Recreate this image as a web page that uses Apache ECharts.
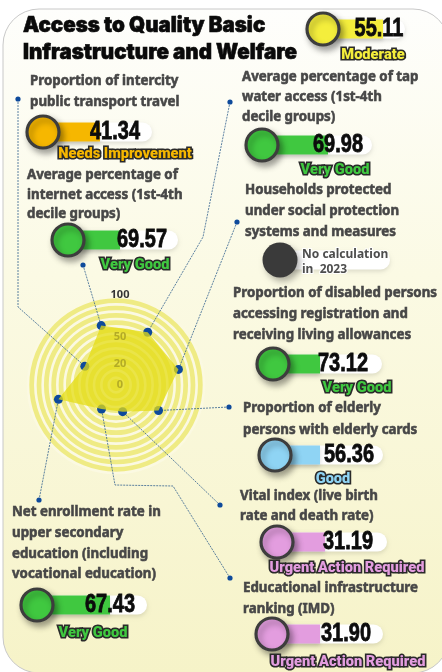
<!DOCTYPE html>
<html>
<head>
<meta charset="utf-8">
<script src="https://cdn.jsdelivr.net/npm/echarts@6/dist/echarts.min.js"></script>
<style>
html, body { margin: 0; padding: 0; background: #fff; }
#main { width: 442px; height: 672px; }
</style>
</head>
<body>
<div id="main"></div>
<script>
var chart = echarts.init(document.getElementById('main'));

// ---- data ----
var titleLines = ['Access to Quality Basic', 'Infrastructure and Welfare'];
var overallScore = 55.11;
var overallRating = 'Moderate';

var kpiNames = [
    'Proportion of intercity\npublic transport travel',
    'Average percentage of tap\nwater access (1st-4th\ndecile groups)',
    'Average percentage of\ninternet access (1st-4th\ndecile groups)',
    'Households protected\nunder social protection\nsystems and measures',
    'Proportion of disabled persons\naccessing registration and\nreceiving living allowances',
    'Proportion of elderly\npersons with elderly cards',
    'Vital index (live birth\nrate and death rate)',
    'Net enrollment rate in\nupper secondary\neducation (including\nvocational education)',
    'Educational infrastructure\nranking (IMD)'
];
var kpiScores = [41.34, 69.98, 69.57, null, 73.12, 56.36, 31.19, 67.43, 31.90];
var kpiRatings = ['Needs Improvement', 'Very Good', 'Very Good', 'No calculation\nin  2023',
    'Very Good', 'Good', 'Urgent Action Required', 'Very Good', 'Urgent Action Required'];

// radar spokes, counter-clockwise, as indexes into the kpi lists
var radarOrder = [2, 0, 7, 8, 6, 5, 4, 1];
var radarTicks = [0, 20, 50, 100];

// ---- styles ----
var ratingColors = {
    'Moderate': '#f4ee3c',
    'Needs Improvement': '#f6b700',
    'Very Good': '#40c840',
    'Good': '#8fd4f4',
    'Urgent Action Required': '#e39ddf'
};

// layout of each kpi block (same order as kpiNames)
var blocks = [
    {label: [30, 81], lh: 21, c: [43, 132], fill: 100, track: 152, num: 115, rate: [125, 154]},
    {label: [242, 77], lh: 20, c: [262, 145], fill: 328, track: 372, num: 338, rate: [335, 170]},
    {label: [27, 175], lh: 19.5, c: [68, 240], fill: 120, track: 178, num: 142, rate: [135, 265]},
    {label: [245, 190], lh: 21, c: [280, 260], fill: null, track: 390, num: null, rate: [302, 262]},
    {label: [233, 293], lh: 21, c: [273, 364], fill: 320, track: 382, num: 343, rate: [357, 388]},
    {label: [243, 408], lh: 22, c: [275, 455], fill: 320, track: 383, num: 349, rate: [333, 479]},
    {label: [240, 496], lh: 20, c: [277, 542], fill: 325, track: 387, num: 348, rate: [347, 568]},
    {label: [12, 512], lh: 20.7, c: [37, 605], fill: 110, track: 147, num: 110, rate: [93, 633]},
    {label: [243, 588], lh: 21, c: [272, 634], fill: 320, track: 383, num: 346, rate: [348, 662]}
];
var overallBlock = {c: [323, 29], fill: 383, track: 405, num: 379, rate: [373, 55]};

// connector from a label dot (with bends) to a radar spoke point
var spokeLinks = [
    {dot: [83, 265], bends: []},
    {dot: [18, 99], bends: [[18, 307]]},
    {dot: [39, 500], bends: []},
    {dot: [230, 578], bends: [[173, 486], [115, 485]]},
    {dot: [220, 505], bends: []},
    {dot: [229, 407], bends: []},
    {dot: [237, 222], bends: []},
    {dot: [230, 102], bends: [[203, 237]]}
];

var ctx = document.createElement('canvas').getContext('2d');
function textWidth(t, font) {
    ctx.font = font;
    return ctx.measureText(t).width;
}

var titleFont = '900 21px Inter, "Noto Sans", sans-serif';
var labelFont = 'bold 15px "Noto Sans", sans-serif';
var numFont = 'bold 25px "Liberation Sans", Arial, sans-serif';
var rateFont = '900 14px Roboto, "Noto Sans", sans-serif';
var titleScale = 274 / textWidth(titleLines[1], titleFont);
var labelScale = 204 / textWidth('Proportion of disabled persons', labelFont);
var numScale = 50 / textWidth('41.34', numFont);
var rateScale = 155 / textWidth('Urgent Action Required', rateFont);

var radarValues = radarOrder.map(function (i) { return kpiScores[i]; });

chart.setOption({
    animation: false,
    radar: {
        z: 0,
        center: [116, 385],
        radius: 88,
        startAngle: 104,
        shape: 'circle',
        splitNumber: 12,
        indicator: radarOrder.map(function (i) {
            return {name: kpiNames[i], min: 0, max: 100};
        }),
        axisName: {show: false},
        axisLine: {show: false},
        axisTick: {show: false},
        axisLabel: {show: false},
        splitLine: {lineStyle: {color: '#fbf9e2', width: 2.6}},
        splitArea: {areaStyle: {color: ['#efeb84', '#efeb84']}}
    },
    series: [
        {
            // spoke points, sitting under the area
            type: 'radar',
            z: 2,
            silent: true,
            symbol: 'circle',
            symbolSize: 9,
            itemStyle: {color: '#0e4a9b'},
            lineStyle: {width: 0, opacity: 0},
            data: [{value: radarValues}]
        },
        {
            type: 'radar',
            z: 3,
            silent: true,
            symbol: 'none',
            lineStyle: {width: 0, opacity: 0},
            areaStyle: {color: 'rgba(228,220,20,0.75)', opacity: 1},
            data: [{value: radarValues}]
        }
    ]
});

// spoke points through the radar's own coordinate system
var radarCS = chart.getModel().getComponent('radar').coordinateSystem;
function spokePoint(idx) {
    return radarCS.dataToPoint(radarValues[idx], idx);
}

var g = [];
g.push({
    type: 'rect', z: -10,
    shape: {x: 3, y: 9, width: 446, height: 664, r: 36},
    style: {
        fill: {type: 'linear', x: 0, y: 0, x2: 0, y2: 1, colorStops: [
            {offset: 0, color: '#fefefc'}, {offset: 0.4, color: '#fbfae4'}, {offset: 1, color: '#f6f3c8'}]},
        stroke: '#c8c8c8', lineWidth: 1
    }
});

titleLines.forEach(function (t, i) {
    g.push({type: 'text', z: 20, x: 23, y: 26 + i * 27, scaleX: titleScale,
        style: {text: t, font: titleFont, fill: '#0a0a0a', stroke: '#0a0a0a', lineWidth: 0.6,
            align: 'left', verticalAlign: 'middle'}});
});

// ring labels along the vertical
radarTicks.forEach(function (v) {
    var r = radarCS.r * v / 100;
    g.push({type: 'text', z: 5, x: radarCS.cx + 4, y: radarCS.cy - r - (v === 100 ? 2 : (v === 0 ? 0 : 4)),
        style: {text: String(v), font: 'bold 11px "Noto Sans", sans-serif',
            fill: v === 100 ? '#333' : '#b3ab26', align: 'center', verticalAlign: 'middle'}});
});

// connectors
spokeLinks.forEach(function (link, idx) {
    var pts = [link.dot].concat(link.bends);
    var p = spokePoint(idx);
    pts.push([p[0], p[1]]);
    g.push({type: 'polyline', z: 1, silent: true, shape: {points: pts},
        style: {stroke: '#33628f', lineWidth: 0.8, lineDash: [2, 1], fill: null}});
    g.push({type: 'circle', z: 20, shape: {cx: link.dot[0], cy: link.dot[1], r: 2.6},
        style: {fill: '#0e4a9b'}});
});

function ratingText(x, y, text, color) {
    g.push({type: 'text', z: 21, x: x, y: y, scaleX: rateScale,
        style: {text: text, font: rateFont, fill: '#2a2a2a', stroke: '#2a2a2a', lineWidth: 3.2,
            lineJoin: 'round', align: 'center', verticalAlign: 'middle'}});
    g.push({type: 'text', z: 22, x: x, y: y, scaleX: rateScale,
        style: {text: text, font: rateFont, fill: color, align: 'center', verticalAlign: 'middle'}});
}

function gauge(b, score, rating) {
    var cx = b.c[0], cy = b.c[1];
    var color = ratingColors[rating];
    g.push({type: 'rect', z: 10, shape: {x: cx, y: cy - 9.5, width: b.track - cx, height: 19, r: 9.5},
        style: {fill: '#fff', shadowBlur: 4, shadowOffsetY: 2, shadowColor: 'rgba(0,0,0,0.12)'}});
    if (score != null) {
        g.push({type: 'rect', z: 11, shape: {x: cx, y: cy - 9.5, width: b.fill - cx, height: 19},
            style: {fill: color, shadowBlur: 4, shadowOffsetY: 2, shadowColor: 'rgba(0,0,0,0.15)'}});
        g.push({type: 'text', z: 12, x: b.num, y: cy, scaleX: numScale, scaleY: 1.05,
            style: {text: score.toFixed(2), font: numFont, fill: '#0c0c0c', stroke: '#0c0c0c',
                lineWidth: 0.8, align: 'center', verticalAlign: 'middle'}});
        g.push({type: 'circle', z: 13, shape: {cx: cx, cy: cy, r: 16},
            style: {fill: color, stroke: '#3d3d3d', lineWidth: 3.2,
                shadowBlur: 6, shadowOffsetX: 3, shadowOffsetY: 4, shadowColor: 'rgba(0,0,0,0.35)'}});
        ratingText(b.rate[0], b.rate[1], rating, color);
    } else {
        g.push({type: 'circle', z: 13, shape: {cx: cx, cy: cy, r: 17.5},
            style: {fill: '#3a3a3a', shadowBlur: 6, shadowOffsetX: 3, shadowOffsetY: 4,
                shadowColor: 'rgba(0,0,0,0.3)'}});
        g.push({type: 'text', z: 14, x: b.rate[0], y: b.rate[1],
            style: {text: rating, font: 'bold 12px "Noto Sans", sans-serif', fill: '#4d4d4d',
                stroke: '#fff', lineWidth: 2, lineHeight: 15, align: 'left', verticalAlign: 'middle'}});
    }
}

gauge(overallBlock, overallScore, overallRating);

blocks.forEach(function (b, i) {
    var lines = kpiNames[i].split('\n');
    lines.forEach(function (t, k) {
        g.push({type: 'text', z: 20, x: b.label[0], y: b.label[1] + k * b.lh, scaleX: labelScale,
            style: {text: t, font: labelFont, fill: '#474747', stroke: '#474747', lineWidth: 0.6,
                align: 'left', verticalAlign: 'middle'}});
    });
    gauge(b, kpiScores[i], kpiRatings[i]);
});

chart.setOption({graphic: {elements: g}});
</script>
</body>
</html>
